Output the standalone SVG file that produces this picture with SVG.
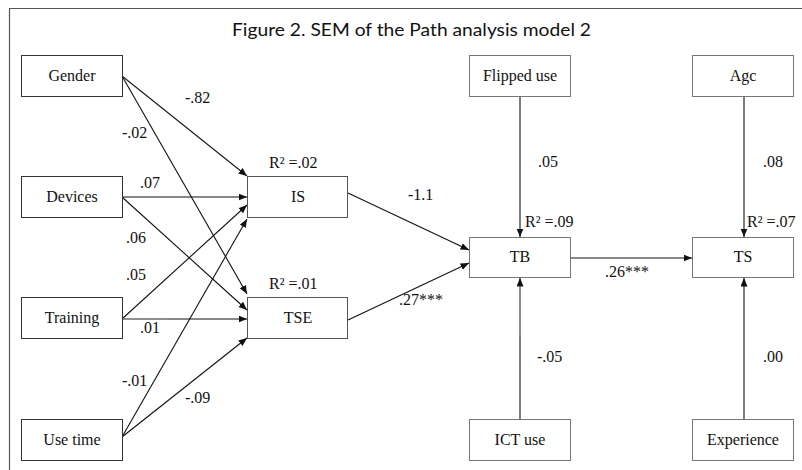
<svg xmlns="http://www.w3.org/2000/svg" width="802" height="470" viewBox="0 0 802 470">
<style>
.box{fill:#fff;stroke:#555;stroke-width:1}
.nt{font-family:"Liberation Serif","Times New Roman",serif;font-size:16px;fill:#111;text-anchor:middle}
.lb{font-family:"Liberation Serif","Times New Roman",serif;font-size:16px;fill:#111}
.ln{fill:none;stroke:#111;stroke-width:1.1;marker-end:url(#ah)}
.gr{fill:none;stroke:#999;stroke-width:1.1}
.title{font-family:Lato,"Open Sans",sans-serif;font-size:18px;fill:#111}
</style>
<defs>
<marker id="ah" markerUnits="userSpaceOnUse" markerWidth="9" markerHeight="8" refX="8.5" refY="3.5" orient="auto">
<path d="M0,0 L8.5,3.5 L0,7 z" fill="#111"/>
</marker>
</defs>
<rect x="0" y="0" width="802" height="470" fill="#fff"/>
<path d="M9.5,470 V8.5 H802" fill="none" stroke="#555" stroke-width="1.2"/>
<text class="title" x="232" y="36" textLength="359" lengthAdjust="spacingAndGlyphs">Figure 2. SEM of the Path analysis model 2</text>

<g id="connectors">
<line class="ln" x1="122" y1="76" x2="247" y2="176"/>
<line class="ln" x1="122" y1="76" x2="247" y2="294"/>
<line class="ln" x1="122" y1="197" x2="247" y2="197"/>
<line class="ln" x1="122" y1="197" x2="247" y2="310"/>
<line class="ln" x1="122" y1="319" x2="247" y2="205"/>
<line class="ln" x1="122" y1="319" x2="247" y2="319"/>
<line class="gr" x1="122" y1="319" x2="167" y2="319"/>
<line class="ln" x1="122" y1="437" x2="247" y2="219"/>
<line class="ln" x1="122" y1="437" x2="247" y2="338"/>
<line class="ln" x1="348" y1="193" x2="469" y2="250"/>
<line class="ln" x1="348" y1="320" x2="469" y2="263"/>
<line class="ln" x1="571" y1="258" x2="692" y2="258"/>
<line class="ln" x1="520" y1="96" x2="520" y2="237"/>
<line class="ln" x1="744" y1="96" x2="744" y2="237"/>
<line class="ln" x1="520" y1="419" x2="520" y2="278"/>
<line class="gr" x1="520" y1="337" x2="520" y2="286"/>
<line class="ln" x1="744" y1="419" x2="744" y2="278"/>
</g>

<g id="labels">
<text class="lb" x="185" y="103">-.82</text>
<text class="lb" x="122" y="138">-.02</text>
<text class="lb" x="269" y="168">R² =.02</text>
<text class="lb" x="140" y="188">.07</text>
<text class="lb" x="126" y="243">.06</text>
<text class="lb" x="126" y="280">.05</text>
<text class="lb" x="269" y="289">R² =.01</text>
<text class="lb" x="140" y="333">.01</text>
<text class="lb" x="122" y="386">-.01</text>
<text class="lb" x="185" y="403">-.09</text>
<text class="lb" x="408" y="200">-1.1</text>
<text class="lb" x="399" y="305">.27***</text>
<text class="lb" x="538" y="167">.05</text>
<text class="lb" x="525" y="227">R² =.09</text>
<text class="lb" x="763" y="167">.08</text>
<text class="lb" x="747" y="227">R² =.07</text>
<text class="lb" x="605" y="277">.26***</text>
<text class="lb" x="537" y="362">-.05</text>
<text class="lb" x="763" y="362">.00</text>
</g>

<g id="gender"><rect class="box" x="21.5" y="55.5" width="101" height="41" style="stroke:#333"/><text class="nt" x="72" y="81">Gender</text></g>
<g id="devices"><rect class="box" x="21.5" y="176.5" width="101" height="41" style="stroke:#333"/><text class="nt" x="72" y="202">Devices</text></g>
<g id="training"><rect class="box" x="21.5" y="297.5" width="101" height="41" style="stroke:#333"/><text class="nt" x="72" y="323">Training</text></g>
<g id="usetime"><rect class="box" x="21.5" y="419.5" width="101" height="41" style="stroke:#333"/><text class="nt" x="72" y="445">Use time</text></g>
<g id="is"><rect class="box" x="247.5" y="176.5" width="100" height="41"/><text class="nt" x="298" y="202">IS</text></g>
<g id="tse"><rect class="box" x="247.5" y="297.5" width="100" height="41"/><text class="nt" x="298" y="323">TSE</text></g>
<g id="flipped"><rect class="box" x="469.5" y="55.5" width="101" height="41" style="stroke:#777"/><text class="nt" x="520" y="81">Flipped use</text></g>
<g id="agc"><rect class="box" x="692.5" y="55.5" width="101" height="41" style="stroke:#777"/><text class="nt" x="743" y="81">Agc</text></g>
<g id="tb"><rect class="box" x="469.5" y="237.5" width="101" height="40" style="stroke:#777"/><text class="nt" x="520" y="262">TB</text></g>
<g id="ts"><rect class="box" x="692.5" y="237.5" width="101" height="40" style="stroke:#777"/><text class="nt" x="743" y="262">TS</text></g>
<g id="ictuse"><rect class="box" x="469.5" y="419.5" width="101" height="41" style="stroke:#777"/><text class="nt" x="520" y="445">ICT use</text></g>
<g id="experience"><rect class="box" x="692.5" y="419.5" width="101" height="41" style="stroke:#777"/><text class="nt" x="743" y="445">Experience</text></g>
</svg>
